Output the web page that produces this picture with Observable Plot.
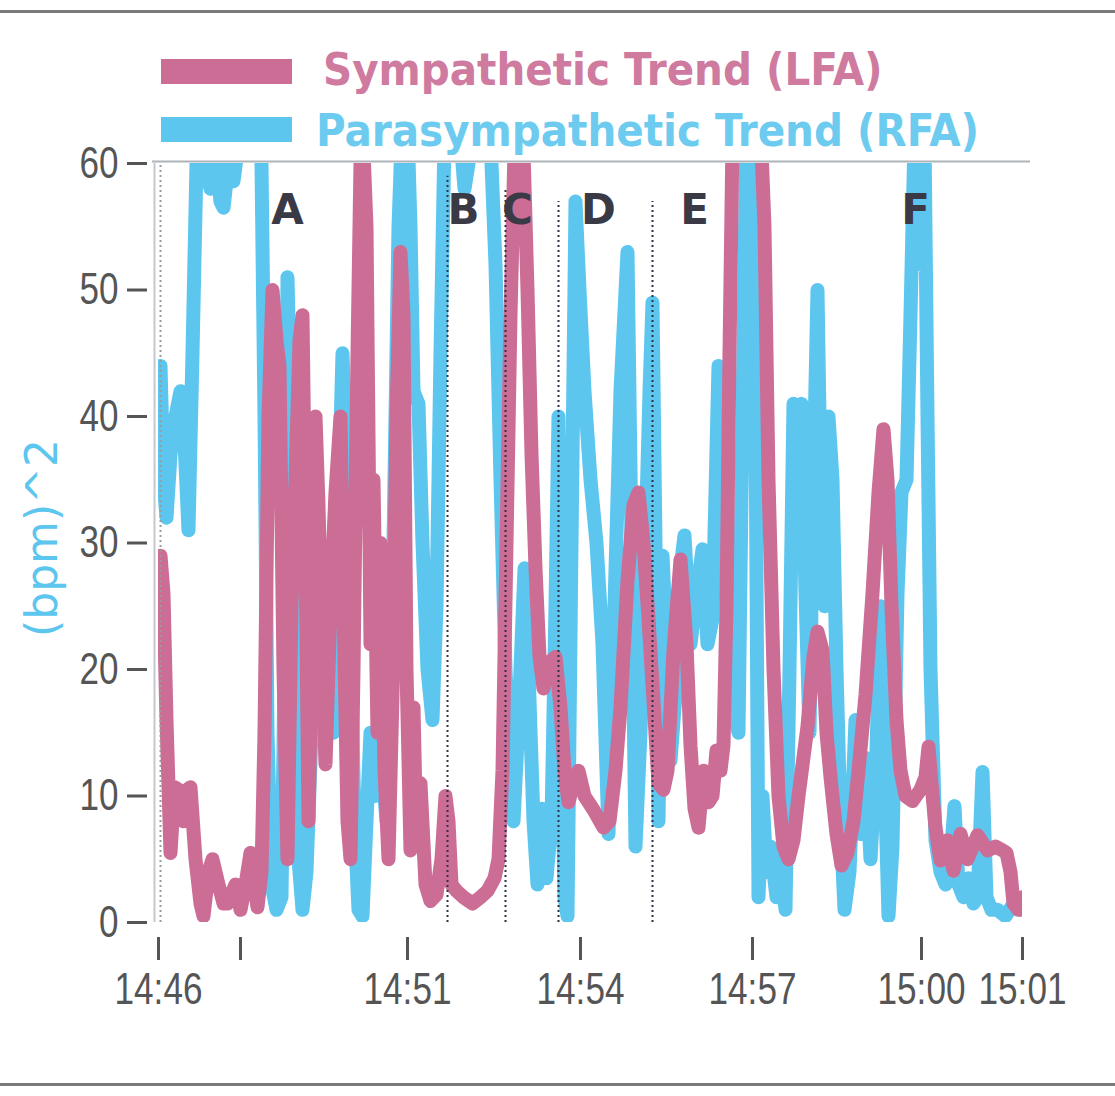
<!DOCTYPE html>
<html><head><meta charset="utf-8">
<script src="https://cdn.jsdelivr.net/npm/d3@7"></script>
<script src="https://cdn.jsdelivr.net/npm/@observablehq/plot@0.6"></script>
<style>
body{margin:0;background:#fff;}
#page{position:relative;width:1115px;height:1096px;overflow:hidden;background:#fff;}
.hr{position:absolute;left:0;width:1115px;height:3px;background:#7a7a7a;}
.sw{position:absolute;left:161px;width:131px;height:25px;}
.lt{position:absolute;font-family:"DejaVu Sans Condensed","DejaVu Sans",sans-serif;font-weight:bold;font-size:45px;line-height:45px;white-space:nowrap;}
#chart{position:absolute;left:0;top:150px;}
</style></head>
<body><div id="page">
<div class="hr" style="top:10px"></div>
<div class="hr" style="top:1083px"></div>
<div id="legend"></div>
<div id="chart"></div>
</div>
<script>
// ---- data ----
const seriesNames = ["Sympathetic Trend (LFA)", "Parasympathetic Trend (RFA)"];
const seriesColors = ["#cc6d96", "#5cc6ef"];
const legendTextColors = ["#cf7a9f", "#6ccbef"];
const yLabel = "(bpm)^2";

// sample index (x) and value (bpm^2)
const lfa = [[160,29],[163,26],[166,16],[170,5.5],[174,10.7],[178,10.5],[183,8],[187,10.5],[190,10.7],[195,5],[200,1.5],[203,0.5],[208,4],[212,5],[218,3],[223,1.5],[227,1.5],[235,3],[240,1],[245,3],[250,5.5],[254,3],[257,1.2],[261,4],[264,15],[268,40],[272,50],[276,46],[279,44],[283,20],[287,5],[291,25],[295,35],[299,46],[302,48],[305,30],[308,8],[312,25],[315,40],[318,33],[322,20],[325,12.5],[330,25],[335,34],[340,40],[343,25],[347,8],[350,5],[353,20],[357,45],[360,60],[363,61],[366,55],[370,22],[373,35],[377,15],[380,30],[384,12],[388,5],[392,18],[396,40],[400,53],[403,48],[406,20],[410,5.7],[413,17],[416,6],[420,11],[425,3],[430,1.7],[436,2.2],[441,5],[445,10],[448,8],[451,3],[456,2.5],[463,2],[472,1.5],[480,2],[487,2.5],[494,3.5],[498,5],[502,12],[506,30],[510,48],[514,61],[518,62],[523,61],[527,50],[531,37],[535,28],[539,21],[543,18.5],[548,20.5],[555,21],[560,17],[564,12],[568,9.5],[573,11],[578,12],[584,10],[593,8.9],[603,7.5],[609,8],[615,12],[620,17],[627,27],[633,33],[638,34],[643,30],[648,24],[653,17.5],[658,11],[663,10.5],[667,12],[673,21.5],[680,28.7],[686,22],[690,14],[694,9],[698,7.5],[703,12],[708,9.5],[712,10],[716,13.6],[720,12],[723,14],[726,25],[729,45],[732,62],[735,64],[745,66],[755,66],[760,63],[764,55],[768,35],[773,20],[778,10],[783,6],[788,5],[793,6.5],[798,10],[807,15.5],[813,21],[817,23],[822,21.5],[826,15],[830,11.5],[836,7],[841,4.5],[847,5.5],[853,8],[858,12],[865,18],[872,26],[878,34],[883,39],[887,35],[891,25],[896,16],[900,12],[905,10],[912,9.6],[920,10.5],[925,11.5],[928,13.9],[931,11],[935,7.5],[940,4.9],[947,6.5],[953,4.1],[960,7],[967,5],[977,6.9],[987,5.7],[995,6],[1000,5.8],[1006,5.5],[1010,4],[1013,1.5],[1018,1],[1022,2]];

const rfa = [[160,44],[163,35],[166,32],[170,37],[175,40],[180,42],[184,38],[188,31],[192,45],[196,60],[200,63],[205,60],[210,58],[215,61],[220,57],[223,56.5],[228,60],[233,58.6],[237,61],[242,65],[250,66],[256,66],[261,60],[264,40],[267,15],[271,3],[276,1],[281,2],[284,20],[287,51],[290,40],[294,20],[298,5],[302,1],[306,4],[311,15],[316,26],[320,28],[325,27],[329,20],[333,15],[337,30],[342,45],[346,35],[350,22],[354,8],[358,1],[362,0.5],[366,8],[370,15],[374,10],[378,16],[382,12],[386,8],[390,15],[394,35],[398,55],[402,64],[407,63],[410,55],[413,42],[418,41],[422,30],[427,20],[432,16],[436,25],[440,45],[444,62],[450,66],[458,64],[464,58],[468,60],[473,64],[482,66],[490,62],[495,52],[500,35],[505,20],[510,10],[513,8],[518,16],[524,28],[528,20],[533,8],[537,3],[541,9],[546,3.5],[551,8],[555,25],[558,40],[561,15],[564,2],[567,0.5],[571,30],[575,57],[579,50],[584,42],[590,35],[596,30],[602,22],[608,7],[614,25],[620,42],[627,53],[631,30],[635,6],[640,15],[645,30],[649,42],[652,49],[655,30],[658,8],[662,29],[666,22],[670,12.8],[675,18],[680,28],[684,30.6],[690,22],[696,26],[702,29.5],[707,22],[712,24],[718,44],[723,36],[728,25],[733,17],[738,15],[742,40],[746,63],[752,64],[755,40],[758,2],[762,10],[766,4],[770,6],[776,2],[780,5],[785,1],[789,20],[793,41],[797,38],[801,41],[805,26],[809,15],[813,35],[817,50],[821,30],[824,25],[828,40],[832,35],[836,20],[840,8],[844,1],[849,4],[855,16],[860,7],[865,13],[870,5],[876,13.6],[880,25],[884,12],[888,0.5],[892,6],[897,26],[901,34],[906,35],[910,48],[914,62],[918,58],[921,52],[924,62],[927,40],[930,20],[935,6.5],[940,4],[945,3],[950,5],[954,9.2],[958,3],[963,2],[968,3.5],[973,1.5],[977,2],[982,11.9],[986,2],[991,1],[997,1],[1005,0.5],[1013,1.5],[1018,1.8],[1021,1]];

const xTickPositions = [158, 240, 407, 580, 752, 921, 1022];
const xTickLabels = ["14:46", "", "14:51", "14:54", "14:57", "15:00", "15:01"];
const yTicks = [0, 10, 20, 30, 40, 50, 60];

const markerPositions = [160, 447, 505, 558, 652];
const markerTops = [60, 59, 58, 57, 57];
const markerColors = ["#9a9a9a", "#2d3346", "#2d3346", "#2d3346", "#2d3346"];

const phaseLetters = ["A", "B", "C", "D", "E", "F"];
const phasePositions = [287, 463, 517, 598, 694, 915];
const phaseLevel = 56.3;

// ---- legend (HTML, above the plot) ----
const legend = document.getElementById("legend");
const swTops = [59, 117];
const txTops = [47, 108];
const txLefts = [323, 316];
seriesNames.forEach((name, i) => {
  const sw = document.createElement("div");
  sw.className = "sw";
  sw.style.top = swTops[i] + "px";
  sw.style.background = seriesColors[i];
  legend.appendChild(sw);
  const tx = document.createElement("div");
  tx.className = "lt";
  tx.style.top = txTops[i] + "px";
  tx.style.left = txLefts[i] + "px";
  tx.style.color = legendTextColors[i];
  tx.textContent = name;
  legend.appendChild(tx);
});

// ---- chart ----
const toRows = arr => arr.map(([t, v]) => ({t, v}));
const labelMap = new Map(xTickPositions.map((p, i) => [p, xTickLabels[i]]));
const markers = markerPositions.map((x, i) => ({x, top: markerTops[i], color: markerColors[i]}));
const phases = phaseLetters.map((l, i) => ({l, x: phasePositions[i]}));

const chart = Plot.plot({
  width: 1115,
  height: 900,
  marginTop: 13,
  marginBottom: 128,
  marginLeft: 158,
  marginRight: 93,
  style: {fontFamily: "'Liberation Sans',Arial,sans-serif", fontSize: "44px", color: "#555", background: "transparent", overflow: "visible"},
  x: {domain: [158, 1022]},
  y: {domain: [0, 60]},
  marks: [
    Plot.ruleY([60], {stroke: "#aeb4b8", strokeWidth: 2, dy: -2, insetLeft: -6, insetRight: -8}),
    Plot.ruleX([158], {y1: 0, y2: 60, stroke: "#c4c8cc", strokeWidth: 2, dx: -4}),
    Plot.line(toRows(rfa), {x: "t", y: "v", stroke: seriesColors[1], strokeWidth: 14, clip: true, strokeLinejoin: "round", strokeLinecap: "round"}),
    Plot.line(toRows(lfa), {x: "t", y: "v", stroke: seriesColors[0], strokeWidth: 14, clip: true, strokeLinejoin: "round", strokeLinecap: "round"}),
    Plot.ruleX(markers, {x: "x", y1: 0, y2: "top", stroke: "color", strokeWidth: 2, strokeDasharray: "2,3"}),
    Plot.text(phases, {x: "x", y: phaseLevel, text: "l", fontFamily: "DejaVu Sans", fontWeight: "bold", fontSize: 42, fill: "#3a3a46"}),
    Plot.text([yLabel], {text: d => d, frameAnchor: "left", textAnchor: "middle", dx: -116, dy: -5, rotate: -90, fill: seriesColors[1], fontSize: 44, fontFamily: "DejaVu Sans"}),
    Plot.axisY({ticks: yTicks, tickSize: 20, dx: -11, tickPadding: 9, color: "#555", strokeWidth: 3, label: null}),
    Plot.axisX({ticks: xTickPositions, tickFormat: d => labelMap.get(d), tickSize: 23, dy: 15, tickPadding: 12, color: "#555", strokeWidth: 3, label: null})
  ]
});

// narrow, tall tick labels like the reference
d3.select(chart).selectAll("g[aria-label='y-axis tick label'] text, g[aria-label='x-axis tick label'] text").each(function () {
  const s = this.textContent;
  if (!s) return;
  const len = [...s].reduce((a, c) => a + (c === ":" ? 10 : 19.5), 0);
  this.setAttribute("textLength", len);
  this.setAttribute("lengthAdjust", "spacingAndGlyphs");
});

document.getElementById("chart").appendChild(chart);
</script>
</body></html>
